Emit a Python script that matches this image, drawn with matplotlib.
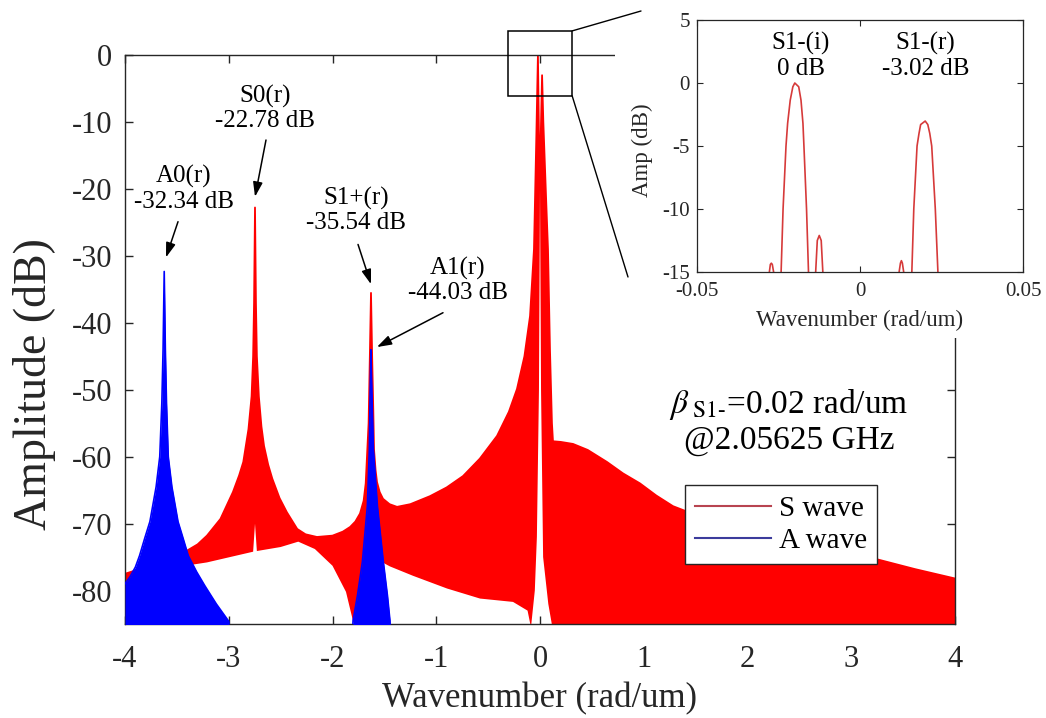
import matplotlib
matplotlib.use("Agg")
import matplotlib.pyplot as plt
from matplotlib.patches import Rectangle, ConnectionPatch
from matplotlib.lines import Line2D

plt.rcParams['font.family'] = ['Liberation Serif', 'DejaVu Serif']
plt.rcParams['mathtext.fontset'] = 'stix'
plt.rcParams['axes.unicode_minus'] = False

# ---- peak levels (dB) and positions (rad/um) ----
A0_DB, S0_DB, S1P_DB, A1_DB = -32.34, -22.78, -35.54, -44.03
S1M_I_DB, S1M_R_DB = 0.0, -3.02
A0_K, S0_K, S1P_K, A1_K = -3.622, -2.747, -1.629, -1.630
S1M_I_K, S1M_R_K = -0.020, 0.020

# ---- S wave spectrum: upper envelope ----
s_upper_k = [-4.00, -3.70, -3.42, -3.30, -3.21, -3.08, -2.96, -2.90, -2.86, -2.81,
             -2.78, -2.765, -2.756, S0_K, -2.738, -2.729, -2.71, -2.685, -2.66, -2.62,
             -2.58, -2.51, -2.44, -2.34, -2.26, -2.15, -2.00, -1.90, -1.83, -1.78,
             -1.735, -1.70, -1.68, -1.652, -1.640, S1P_K, -1.618, -1.607, -1.60, -1.585,
             -1.571, -1.545, -1.513, -1.45, -1.378, -1.25, -1.06, -0.90, -0.742, -0.58,
             -0.414, -0.30, -0.222, -0.15, -0.096, -0.058, -0.035, S1M_I_K, -0.010, 0.000,
             0.010, S1M_R_K, 0.032, 0.060, 0.077, 0.096, 0.115, 0.125, 0.20, 0.318,
             0.46, 0.646, 0.80, 0.964, 1.12, 1.282, 1.55, 1.87, 2.217, 2.573,
             2.92, 3.24, 3.614, 4.00]
s_upper_db = [-77.5, -76.0, -74.2, -73.1, -71.8, -69.3, -65.3, -62.8, -60.8, -55.9,
              -51.0, -45.0, -37.0, S0_DB, -37.0, -45.0, -51.0, -55.5, -58.4, -61.2,
              -63.3, -66.2, -68.3, -70.8, -71.6, -72.0, -71.8, -71.2, -70.5, -69.7,
              -68.5, -66.6, -64.0, -55.0, -45.0, S1P_DB, -45.0, -53.0, -58.9, -62.0,
              -63.8, -65.3, -66.3, -67.1, -67.5, -67.1, -65.9, -64.6, -62.9, -60.3,
              -56.9, -53.3, -49.9, -45.0, -39.0, -29.0, -12.0, S1M_I_DB, -12.0, -18.0,
              -10.0, S1M_R_DB, -10.0, -22.0, -29.0, -44.0, -55.0, -57.7, -57.8, -58.1,
              -59.0, -60.8, -62.5, -64.0, -65.8, -67.4, -69.0, -70.1, -71.4, -72.7,
              -74.0, -75.3, -76.8, -78.2]

# ---- S wave spectrum: lower envelope ----
s_lower_k = [-4.00, -3.42, -3.21, -2.765, S0_K, -2.729, -2.50, -2.33, -2.17, -2.00,
             -1.87, -1.80, -1.63, -1.542, -1.446, -1.224, -0.896, -0.578, -0.26, -0.12,
             -0.087, -0.05, -0.03, -0.01, 0.0, 0.01, 0.03, 0.08, 0.125, 4.00]
s_lower_db = [-82.0, -76.3, -75.8, -74.2, -70.0, -74.1, -73.5, -72.7, -73.8, -76.3,
              -80.2, -84.7, -86.0, -75.6, -76.4, -77.8, -79.7, -81.2, -81.7, -83.0,
              -85.5, -80.0, -72.0, -50.0, -20.0, -50.0, -75.0, -82.0, -86.0, -86.0]

# ---- A wave spectrum ----
a_k = [-4.00, -3.95, -3.90, -3.86, -3.81, -3.76, -3.70, -3.665, -3.645, -3.633,
       A0_K, -3.611, -3.600, -3.583, -3.548, -3.489, -3.44, -3.39, -3.31, -3.23,
       -3.12, -3.00, -2.97, -1.83, -1.81, -1.802, -1.76, -1.712, -1.664, -1.645,
       -1.637, A1_K, -1.621, -1.606, -1.567, -1.51, -1.47, -1.446, -1.43]
a_db = [-79.0, -77.9, -76.5, -74.8, -72.2, -69.7, -64.5, -60.0, -52.0, -44.0,
        A0_DB, -44.0, -52.0, -60.0, -64.5, -69.7, -72.2, -74.8, -77.2, -79.3,
        -82.0, -84.6, -90.0, -90.0, -87.0, -84.5, -80.8, -75.7, -67.4, -58.9,
        -50.0, A1_DB, -50.0, -58.9, -67.4, -75.7, -80.8, -84.5, -90.0]

# ---- close-up of the S1- pair ----
zoom_k = [-0.0300, -0.0288, -0.0278, -0.0275, -0.0272, -0.0269, -0.0265, -0.0256,
          -0.0242, -0.0236, -0.0227, -0.0222, -0.0214, -0.0206, S1M_I_K, -0.0188,
          -0.0181, -0.0175, -0.0172, -0.0164, -0.0158, -0.0148, -0.0136, -0.0131,
          -0.0125, -0.0119, -0.0114, -0.0104, 0.0000, 0.0110, 0.0120, 0.0124,
          0.0127, 0.0130, 0.0134, 0.0146, 0.0159, 0.0165, 0.0175, 0.0181,
          0.0186, S1M_R_K, 0.0208, 0.0214, 0.0220, 0.0231, 0.0239, 0.0250, 0.0300]
zoom_db = [-40.0, -24.0, -15.0, -14.4, -14.3, -14.4, -15.0, -40.0,
           -15.0, -10.0, -5.0, -3.2, -1.36, -0.3, S1M_I_DB, -0.3,
           -1.36, -3.2, -5.0, -10.0, -15.0, -40.0, -15.0, -12.5,
           -12.1, -12.5, -15.0, -40.0, -35.0, -40.0, -15.0, -14.3,
           -14.1, -14.3, -15.0, -40.0, -15.0, -10.0, -5.0, -4.0,
           -3.3, S1M_R_DB, -3.3, -4.0, -5.0, -10.0, -15.0, -40.0, -40.0]

# ---- annotations ----
peak_text = ["A0(r)\n%.2f dB" % A0_DB, "S0(r)\n%.2f dB" % S0_DB,
             "S1+(r)\n%.2f dB" % S1P_DB, "A1(r)\n%.2f dB" % A1_DB]
peak_k = [A0_K, S0_K, S1P_K, A1_K]
peak_db = [A0_DB, S0_DB, S1P_DB, A1_DB]
text_k = [-3.436, -2.651, -1.769, -0.790]
text_db = [-20.0, -8.0, -23.2, -33.7]
tail_k = [-3.489, -2.641, -1.754, -0.935]
tail_db = [-24.9, -12.7, -28.3, -38.5]
tip_dk = [0.017, 0.0, 0.0, 0.058]
tip_ddb = [2.1, 1.6, 1.3, 0.4]

zoom_text = ["S1-(i)\n%g dB" % S1M_I_DB, "S1-(r)\n%.2f dB" % S1M_R_DB]
zoom_text_k = [-0.0181, 0.0201]

x_ticks = [-4, -3, -2, -1, 0, 1, 2, 3, 4]
y_ticks = [-80, -70, -60, -50, -40, -30, -20, -10, 0]
zx_ticks = [-0.05, 0, 0.05]
zx_ticklabels = ['-0.05', '0', '0.05']
zy_ticks = [-15, -10, -5, 0, 5]

RED = '#ff0000'
BLUE = '#0000ff'
INK = '#262626'

W, H = 1046, 718
fig = plt.figure(figsize=(W / 100, H / 100), dpi=100)
ax = fig.add_axes([125 / W, 1 - 624 / H, 830 / W, 569 / H])

# S wave band
poly_k = s_upper_k + s_lower_k[::-1]
poly_db = s_upper_db + s_lower_db[::-1]
ax.fill(poly_k, poly_db, color=RED, lw=0, zorder=2)
ax.plot(s_upper_k, s_upper_db, color=RED, lw=1.3, zorder=2)
# A wave band
ax.fill_between(a_k, a_db, -90, color=BLUE, lw=0, zorder=3)
ax.plot(a_k, a_db, color=BLUE, lw=1.2, zorder=3)

ax.set_xlim(-4, 4)
ax.set_ylim(-85, 0)
ax.set_xticks(x_ticks)
ax.set_yticks(y_ticks)
ax.tick_params(direction='in', length=6, width=1, top=True, right=True,
               labelsize=22, colors=INK)
ax.tick_params(axis='x', pad=15)
ax.tick_params(axis='y', pad=9)
for sp in ax.spines.values():
    sp.set_color(INK)
    sp.set_linewidth(1.0)
ax.set_xlabel('Wavenumber (rad/um)', fontsize=25, color=INK)
ax.set_ylabel('Amplitude (dB)', fontsize=33, color=INK)
ax.xaxis.set_label_coords(0.5, -0.102)
ax.yaxis.set_label_coords(-0.083, 0.421)

for t, pk, pd, tk, td, ak, ad, dk, dd in zip(peak_text, peak_k, peak_db, text_k, text_db,
                                             tail_k, tail_db, tip_dk, tip_ddb):
    ax.text(tk, td, t, ha='center', va='center', fontsize=18, color='black',
            linespacing=1.15, zorder=5)
    ax.annotate('', xy=(pk + dk, pd + dd), xytext=(ak, ad),
                arrowprops=dict(arrowstyle='-|>,head_length=0.55,head_width=0.18',
                                color='black', lw=1.1, shrinkA=0, shrinkB=0,
                                mutation_scale=16), zorder=5)

ax.text(0.80, 0.356, r'$\beta_{\mathrm{\ S1}\text{-}}$=0.02 rad/um' + '\n@2.05625 GHz',
        transform=ax.transAxes, ha='center', va='center', fontsize=24,
        linespacing=1.15, color='black', zorder=5)

handles = [Line2D([], [], color='#b84450', lw=1.5),
           Line2D([], [], color='#3c3c9c', lw=1.5)]
leg = ax.legend(handles, ['S wave', 'A wave'], loc='upper left',
                bbox_to_anchor=(0.675, 0.244), borderaxespad=0, fontsize=21,
                handlelength=2.6, handletextpad=0.25, labelspacing=0.2,
                borderpad=0.35, fancybox=False, framealpha=1, edgecolor=INK)
leg.get_frame().set_linewidth(1.0)
leg.set_zorder(6)

# box marking the zoomed region
box_k0, box_k1, box_db0, box_db1 = -0.31, 0.31, -6.1, 3.6
ax.add_patch(Rectangle((box_k0, box_db0), box_k1 - box_k0, box_db1 - box_db0,
                       fill=False, edgecolor='black', lw=1.1, clip_on=False, zorder=6))

# white panel behind the close-up
fig.add_artist(Rectangle((615 / W, 1 - 338 / H), (W - 615) / W, 338 / H,
                         transform=fig.transFigure, facecolor='white',
                         edgecolor='none', zorder=1))

for (bk, bd, fx, fy) in [(box_k1, box_db1, 641 / W, 1 - 11 / H),
                         (box_k1, box_db0, 628 / W, 1 - 277 / H)]:
    con = ConnectionPatch(xyA=(bk, bd), coordsA=ax.transData,
                          xyB=(fx, fy), coordsB=fig.transFigure,
                          color='black', lw=1.0, zorder=3)
    fig.add_artist(con)

axin = fig.add_axes([697 / W, 1 - 272 / H, 326 / W, 252 / H], zorder=2)
axin.plot(zoom_k, zoom_db, color='#d63a3a', lw=1.2)
axin.set_xlim(-0.05, 0.05)
axin.set_ylim(-15, 5)
axin.set_xticks(zx_ticks)
axin.set_xticklabels(zx_ticklabels)
axin.set_yticks(zy_ticks)
axin.tick_params(direction='in', length=4, width=0.8, top=True, right=True,
                 labelsize=15, colors=INK)
axin.tick_params(axis='x', pad=7)
axin.tick_params(axis='y', pad=5)
for sp in axin.spines.values():
    sp.set_color(INK)
    sp.set_linewidth(0.9)
axin.set_xlabel('Wavenumber (rad/um)', fontsize=16.5, color=INK)
axin.set_ylabel('Amp (dB)', fontsize=16.5, color=INK)
axin.xaxis.set_label_coords(0.5, -0.15)
axin.yaxis.set_label_coords(-0.135, 0.484)
for t, tk in zip(zoom_text, zoom_text_k):
    axin.text(tk, 2.15, t, ha='center', va='center', fontsize=18,
              linespacing=1.15, color='black')

fig.savefig('out.png', dpi=100)
